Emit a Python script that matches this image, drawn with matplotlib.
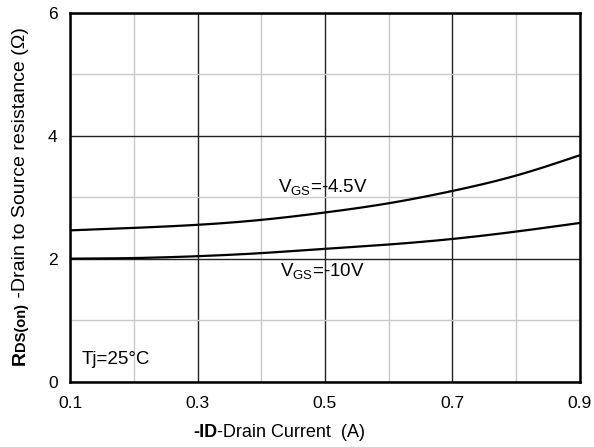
import matplotlib
matplotlib.use("Agg")
import matplotlib.pyplot as plt
import numpy as np
from matplotlib.ticker import MultipleLocator

plt.rcParams['font.family'] = ['Liberation Sans', 'DejaVu Sans']
plt.rcParams['mathtext.fontset'] = 'custom'
plt.rcParams['mathtext.rm'] = 'Liberation Sans'
plt.rcParams['mathtext.bf'] = 'Liberation Sans:bold'
plt.rcParams['mathtext.it'] = 'Liberation Sans:italic'

# Data
current = [0.1, 0.2, 0.3, 0.4, 0.5, 0.6, 0.7, 0.8, 0.9]
rds_vgs45 = [2.46, 2.50, 2.55, 2.63, 2.75, 2.90, 3.10, 3.35, 3.68]
rds_vgs10 = [2.00, 2.01, 2.04, 2.09, 2.16, 2.23, 2.32, 2.44, 2.58]
x_ticks = [0.1, 0.3, 0.5, 0.7, 0.9]
y_ticks = [0, 2, 4, 6]


def spline(x, y, xs):
    """Natural cubic spline through the read points (for a smooth line)."""
    x = np.asarray(x, float); y = np.asarray(y, float)
    n = len(x)
    h = np.diff(x)
    A = np.zeros((n, n)); b = np.zeros(n)
    A[0, 0] = A[-1, -1] = 1
    for i in range(1, n - 1):
        A[i, i - 1] = h[i - 1]; A[i, i] = 2 * (h[i - 1] + h[i]); A[i, i + 1] = h[i]
        b[i] = 3 * ((y[i + 1] - y[i]) / h[i] - (y[i] - y[i - 1]) / h[i - 1])
    c = np.linalg.solve(A, b)
    bb = (y[1:] - y[:-1]) / h - h * (2 * c[:-1] + c[1:]) / 3
    d = (c[1:] - c[:-1]) / (3 * h)
    idx = np.clip(np.searchsorted(x, xs) - 1, 0, n - 2)
    dx = xs - x[idx]
    return y[idx] + bb[idx] * dx + c[idx] * dx ** 2 + d[idx] * dx ** 3


fig = plt.figure(figsize=(5.94, 4.47), dpi=100)
ax = fig.add_axes([0.118, 0.146, 0.858, 0.826])

xs = np.linspace(current[0], current[-1], 300)
ax.plot(xs, spline(current, rds_vgs45, xs), color='black', lw=1.6, zorder=3)
ax.plot(xs, spline(current, rds_vgs10, xs), color='black', lw=1.6, zorder=3)

ax.set_xlim(0.1, 0.9)
ax.set_ylim(0, 6)
ax.set_xticks(x_ticks)
ax.set_yticks(y_ticks)
ax.set_xticklabels([f"{v:.1f}" for v in x_ticks])
ax.set_yticklabels([str(v) for v in y_ticks])
ax.xaxis.set_minor_locator(MultipleLocator(0.1))
ax.yaxis.set_minor_locator(MultipleLocator(1))
ax.grid(which='major', color='#222222', lw=1.0, zorder=1)
ax.grid(which='minor', color='#c8c8c8', lw=1.0, zorder=0)
ax.tick_params(which='both', length=0, labelsize=12.5)
ax.tick_params(axis='x', pad=10)
ax.tick_params(axis='y', pad=9)
for s in ax.spines.values():
    s.set_linewidth(1.8)
    s.set_zorder(4)

ax.text(0.426, 3.17, r"V$_{\mathrm{GS}}$=-4.5V", fontsize=13.5, va='center', ha='left', zorder=5)
ax.text(0.430, 1.80, r"V$_{\mathrm{GS}}$=-10V", fontsize=13.5, va='center', ha='left', zorder=5)
ax.text(0.118, 0.36, "Tj=25°C", fontsize=13.5, va='center', ha='left', zorder=5)

# Composite axis labels (bold part + regular part)
fig.canvas.draw()
r = fig.canvas.get_renderer()
W, H = fig.bbox.width, fig.bbox.height

# x label
x0, yb = 193 / W, 1 - 437 / H
t = fig.text(x0, yb, "-ID", fontsize=13, fontweight='bold', ha='left', va='baseline')
w = t.get_window_extent(r).width / W
fig.text(x0 + w, yb, "-Drain Current  (A)", fontsize=13, ha='left', va='baseline')

# y label (rotated)
xb, y0 = 25 / W, 1 - 365 / H
t1 = fig.text(xb, y0, "R", fontsize=14, fontweight='bold', rotation=90,
              rotation_mode='anchor', ha='left', va='baseline')
h1 = t1.get_window_extent(r).height / H
t2 = fig.text(xb, y0 + h1, "DS(on)", fontsize=10.5, fontweight='bold', rotation=90,
              rotation_mode='anchor', ha='left', va='baseline')
h2 = t2.get_window_extent(r).height / H
fig.text(xb, y0 + h1 + h2, " -Drain to Source resistance (Ω)", fontsize=14, rotation=90,
         rotation_mode='anchor', ha='left', va='baseline')

fig.savefig("out.png", dpi=100)
